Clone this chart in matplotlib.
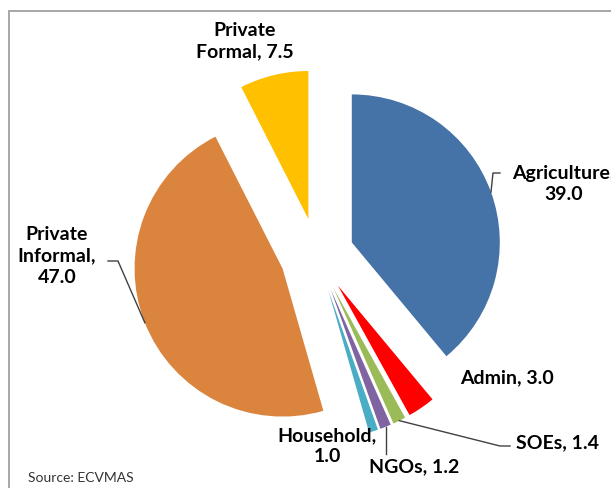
import numpy as np
import matplotlib.pyplot as plt
from matplotlib.patches import Rectangle

plt.rcParams['font.family'] = ['Lato', 'DejaVu Sans']

sectors = ["Agriculture", "Admin", "SOEs", "NGOs", "Household",
           "Private Informal", "Private Formal"]
shares = [39.0, 3.0, 1.4, 1.2, 1.0, 47.0, 7.5]
colors = ["#4572A7", "#FF0000", "#9BBB59", "#8064A2", "#4BACC6",
          "#DB843D", "#FFC000"]
label_text = ["Agriculture,\n39.0", "Admin, 3.0", "SOEs, 1.4", "NGOs, 1.2",
              "Household,\n1.0", "Private\nInformal,\n47.0", "Private\nFormal, 7.5"]

W, H = 611, 489
fig = plt.figure(figsize=(W / 100, H / 100), dpi=100)
ax = fig.add_axes([0, 0, 1, 1])

# chart frame (cropped at right and bottom)
ax.add_patch(Rectangle((9, -20), 700, H - 12 + 20, fill=False,
                       edgecolor='#a0a0a0', linewidth=1.3))

R = 148
wedges, _ = ax.pie(shares, colors=colors, startangle=90, counterclock=False,
                   explode=[37] * len(shares), radius=R, center=(317, 233),
                   wedgeprops=dict(linewidth=0), frame=True)
ax.set_xlim(0, W)
ax.set_ylim(0, H)
ax.set_aspect('equal')
ax.axis('off')


def mid_point(w):
    a = np.deg2rad(0.5 * (w.theta1 + w.theta2))
    return w.center[0] + w.r * np.cos(a), w.center[1] + w.r * np.sin(a)


fs = 14
tk = dict(fontsize=fs, fontweight='bold', color='black', multialignment='center',
          linespacing=1.3)
lc = dict(color='#404040', linewidth=1.0)

# Agriculture
ax.text(512, 305, label_text[0], ha='left', va='center', **tk)
px, py = mid_point(wedges[0])
ax.plot([px, 493, 500], [py, 315, 315], **lc)
# Admin
ax.text(507, 111, label_text[1], ha='center', va='center', **tk)
# SOEs
ax.text(558, 46, label_text[2], ha='center', va='center', **tk)
px, py = mid_point(wedges[2])
ax.plot([px, 500, 510], [py, 42, 42], **lc)
# NGOs
ax.text(414, 22, label_text[3], ha='center', va='center', **tk)
px, py = mid_point(wedges[3])
ax.plot([px, px], [py, 34], **lc)
# Household
ax.text(327, 43, label_text[4], ha='center', va='center', **tk)
# Private Informal
ax.text(57, 233, label_text[5], ha='center', va='center', **tk)
px, py = mid_point(wedges[5])
ax.plot([px, 118, 108], [py, 227, 227], **lc)
# Private Formal
ax.text(245, 448, label_text[6], ha='center', va='center', **tk)

ax.text(28, 11, "Source: ECVMAS", ha='left', va='center', fontsize=10, color='#333333')

fig.savefig("out.png", dpi=100)
